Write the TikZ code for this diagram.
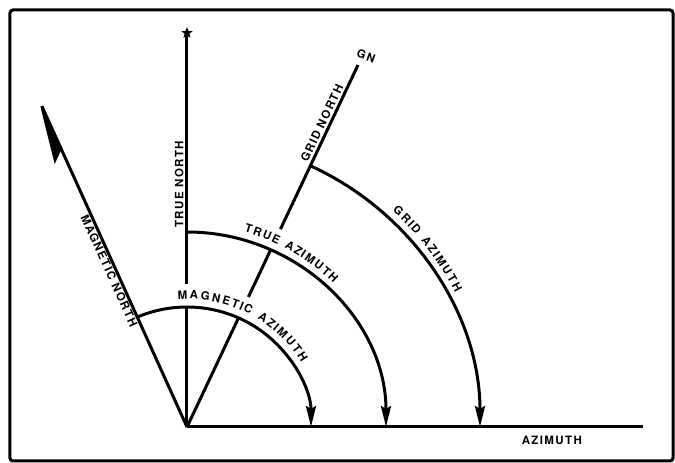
\documentclass[tikz,border=0pt]{standalone}
\usepackage{fontspec}
\usetikzlibrary{arrows.meta,shapes.geometric,decorations.text}
\newfontfamily\heros[LetterSpace=12]{TeX Gyre Heros}
\newcommand{\lblfont}{\heros\bfseries\fontsize{11.5}{13}\selectfont}

\begin{document}
\begin{tikzpicture}[x=1pt,y=1pt,
    heavy/.style={line width=3pt},
    lbl/.style={font=\lblfont,inner sep=2pt},
    tipsm/.style={-{Stealth[length=21pt,width=10pt,inset=3pt]}},
    gap/.style={white,line width=22pt},
    arctext/.style={decorate,decoration={text effects along path,text={#1},
        text effects/.cd,text along path,fit text to path,characters={font=\lblfont,inner sep=0pt}}}]
    \useasboundingbox (-187,-36) rectangle (488,427);

    % Frame
    \draw[line width=3pt,rounded corners=3pt] (-177,-34) rectangle (486,417);

    % Origin and line ends
    \coordinate (O) at (0,0);
    \coordinate (az) at (456,0);
    \coordinate (mn) at (-152,336);
    \coordinate (gn) at (171,362);
    \node[star,star points=5,star point ratio=2.4,fill,inner sep=0pt,minimum size=12pt] (tn) at (0,394) {};

    % North lines
    \draw[heavy] (O) -- (tn.south) node[lbl,pos=0.62,above,sloped] (tnlbl) {TRUE NORTH};
    \draw[heavy,-{Stealth[harpoon,length=66pt,width=24pt,inset=10pt]}] (O) -- (mn);
    \path (mn) -- (O) node[lbl,pos=0.527,below,sloped] (mnlbl) {MAGNETIC NORTH};
    \draw[heavy] (O) -- (gn) node[lbl,pos=0.83,above,sloped] (gnlbl) {GRID NORTH};
    \node[lbl,rotate=-20] (gntxt) at ([shift={(8,9)}]gn) {GN};
    \draw[heavy] (O) -- (az) node[lbl,pos=0.8,below=6pt] (azlbl) {AZIMUTH};

    % Gaps under arc labels
    \draw[gap] (95:136 and 132) arc[start angle=95,end angle=28,x radius=136,y radius=132];
    \draw[gap] (75:211 and 207) arc[start angle=75,end angle=43,x radius=211,y radius=207];

    % Azimuth arcs
    \draw[heavy,tipsm] (113.6:124 and 120) arc[start angle=113.6,end angle=0,x radius=124,y radius=120];
    \draw[heavy,tipsm] (90:199 and 195) arc[start angle=90,end angle=0,x radius=199,y radius=195];
    \draw[heavy,tipsm] (65.1:293 and 288) arc[start angle=65.1,end angle=0,x radius=293,y radius=288];

    % Arc labels
    \path[arctext=MAGNETIC AZIMUTH] (94:132 and 128) arc[start angle=94,end angle=30,x radius=132,y radius=128];
    \path[arctext=TRUE AZIMUTH] (74:207 and 203) arc[start angle=74,end angle=45,x radius=207,y radius=203];
    \path[arctext=GRID AZIMUTH] (47:301 and 296) arc[start angle=47,end angle=27,x radius=301,y radius=296];
\end{tikzpicture}
\end{document}
